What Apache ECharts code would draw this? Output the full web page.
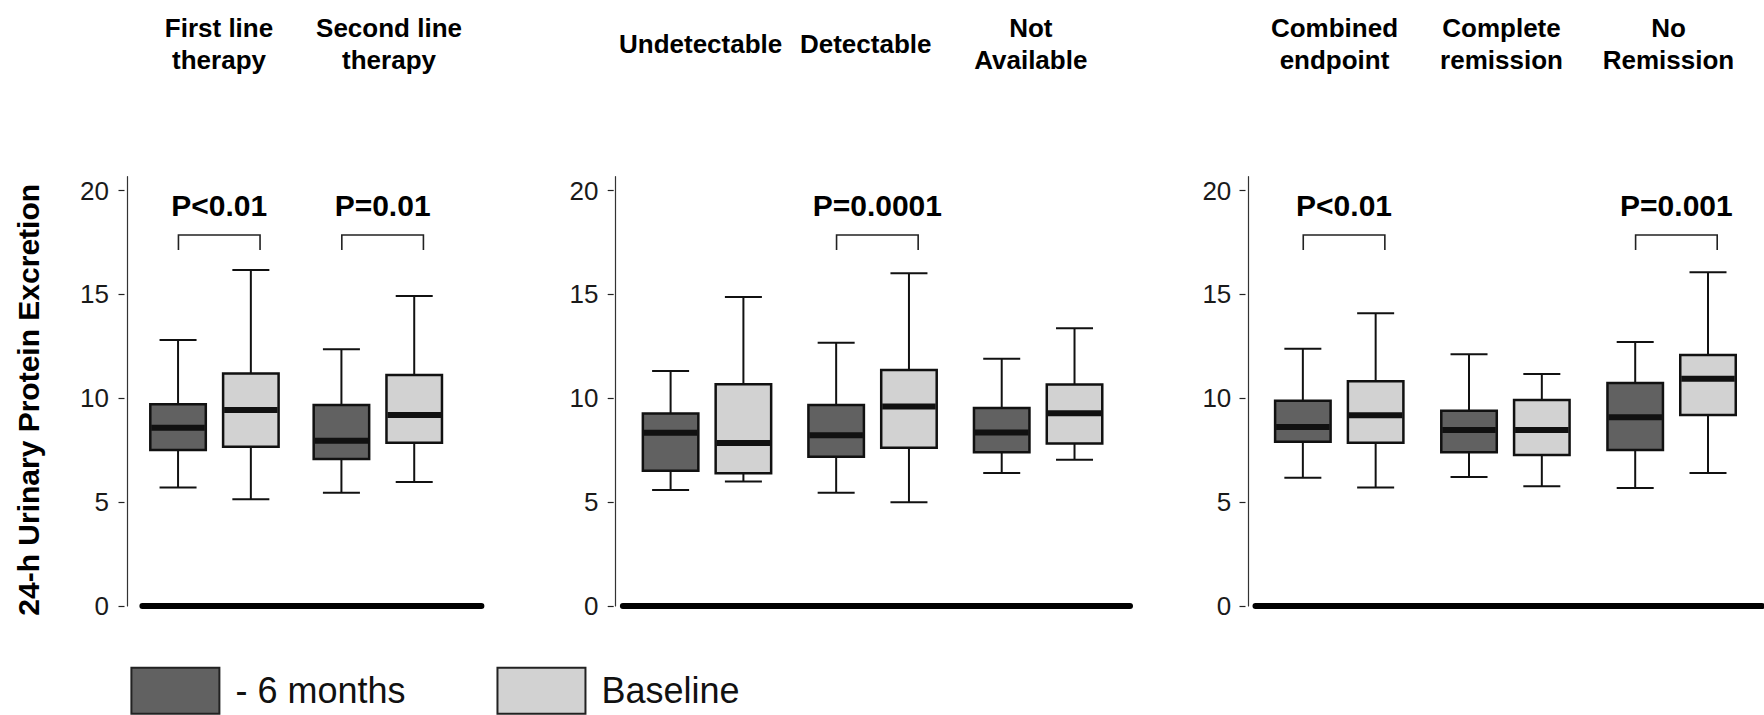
<!DOCTYPE html>
<html>
<head>
<meta charset="utf-8">
<script src="https://cdn.jsdelivr.net/npm/echarts@6/dist/echarts.min.js"></script>
<style>
  html, body { margin: 0; background: #fff; }
  #chart { width: 1764px; height: 715px; }
</style>
</head>
<body>
<div id="chart"></div>
<script>
// group names (header of each pair of boxes)
const groups1 = ['First line\ntherapy', 'Second line\ntherapy'];
const groups2 = ['Undetectable', 'Detectable', 'Not\nAvailable'];
const groups3 = ['Combined\nendpoint', 'Complete\nremission', 'No\nRemission'];

// [min, Q1, median, Q3, max] per group
const sixMonths1 = [[5.70, 7.51, 8.58, 9.71, 12.81], [5.45, 7.08, 7.96, 9.68, 12.36]];
const baseline1 = [[5.14, 7.67, 9.44, 11.20, 16.18], [5.97, 7.86, 9.19, 11.12, 14.93]];
const sixMonths2 = [[5.59, 6.51, 8.34, 9.27, 11.31], [5.45, 7.19, 8.22, 9.68, 12.67], [6.40, 7.40, 8.35, 9.53, 11.91]];
const baseline2 = [[5.99, 6.39, 7.85, 10.68, 14.88], [5.00, 7.62, 9.60, 11.36, 16.02], [7.04, 7.82, 9.28, 10.66, 13.37]];
const sixMonths3 = [[6.18, 7.91, 8.62, 9.88, 12.39], [6.21, 7.40, 8.47, 9.40, 12.12], [5.68, 7.51, 9.09, 10.74, 12.71]];
const baseline3 = [[5.70, 7.86, 9.18, 10.82, 14.09], [5.76, 7.27, 8.47, 9.92, 11.17], [6.40, 9.20, 10.94, 12.08, 16.07]];

// significance brackets: which group, and its label
const pGroups1 = [0, 1];
const pText1 = ['P<0.01', 'P=0.01'];
const pGroups2 = [1];
const pText2 = ['P=0.0001'];
const pGroups3 = [0, 2];
const pText3 = ['P<0.01', 'P=0.001'];

const yTicks = [0, 5, 10, 15, 20];
const yTitle = '24-h Urinary Protein Excretion';
const seriesNames = ['- 6 months', 'Baseline'];

const DARK = '#616161';
const LIGHT = '#d2d2d2';
const Y_MAX = 20.67;
const PAIR_HALF = 36.4;
const BOX_W = 55.5;
const CAP_W = 37;
const SANS = "'Liberation Sans', Arial, sans-serif";

const panels = [
  { groups: groups1, six: sixMonths1, base: baseline1, pGroups: pGroups1, pText: pText1,
    left: 142.4, width: 339, tickOff: 17.9, lineOff: 15.1, labelMargin: 15.5,
    xMin: -0.441, xMax: 1.634, hMin: -0.4506, hMax: 1.5435 },
  { groups: groups2, six: sixMonths2, base: baseline2, pGroups: pGroups2, pText: pText2,
    left: 622.9, width: 507.1, tickOff: 9.2, lineOff: 7.3, labelMargin: 15.3,
    xMin: -0.508, xMax: 2.555, hMin: -0.4706, hMax: 2.6008 },
  { groups: groups3, six: sixMonths3, base: baseline3, pGroups: pGroups3, pText: pText3,
    left: 1255.5, width: 506.5, tickOff: 10, lineOff: 7.7, labelMargin: 14.2,
    xMin: -0.504, xMax: 2.544, hMin: -0.4731, hMax: 2.5599 }
];

const line = (x1, y1, x2, y2, w) => ({
  type: 'line', shape: { x1, y1, x2, y2 }, style: { stroke: '#111', lineWidth: w }
});

const boxRenderer = (side) => (params, api) => {
  const g = api.value(0);
  const cx = api.coord([g, 0])[0] + side * PAIR_HALF;
  const y = (v) => api.coord([g, v])[1];
  const lo = y(api.value(1)), q1 = y(api.value(2)), med = y(api.value(3));
  const q3 = y(api.value(4)), hi = y(api.value(5));
  const hw = BOX_W / 2, cw = CAP_W / 2;
  return {
    type: 'group',
    children: [
      line(cx, hi, cx, q3, 2),
      line(cx, q1, cx, lo, 2),
      line(cx - cw, hi, cx + cw, hi, 2),
      line(cx - cw, lo, cx + cw, lo, 2),
      { type: 'rect', shape: { x: cx - hw, y: q3, width: BOX_W, height: q1 - q3 },
        style: { fill: api.visual('color'), stroke: '#111', lineWidth: 2.5 } },
      line(cx - hw + 1, med, cx + hw - 1, med, 6)
    ]
  };
};

const bracketRenderer = (texts) => (params, api) => {
  const g = api.value(0);
  const c = api.coord([g, 0])[0] + 4.8;
  const x1 = c - 40.8, x2 = c + 40.8;
  const top = api.coord([g, 17.86])[1];
  const leg = api.coord([g, 17.14])[1];
  const ty = api.coord([g, 19.26])[1];
  return {
    type: 'group',
    children: [
      { type: 'polyline', shape: { points: [[x1, leg], [x1, top], [x2, top], [x2, leg]] },
        style: { stroke: '#222', lineWidth: 1.6, fill: null } },
      { type: 'text', style: { text: texts[params.dataIndex], x: c, y: ty, align: 'center',
        verticalAlign: 'middle', fontSize: 30, fontWeight: 'bold', fontFamily: SANS, fill: '#000' } }
    ]
  };
};

const grid = [], xAxis = [], yAxis = [], series = [];

panels.forEach((p, i) => {
  grid.push({ left: p.left, width: p.width, top: 606 - Y_MAX * 20.77, height: Y_MAX * 20.77 });

  // bottom axis: positions the boxes, draws the thick baseline
  xAxis.push({
    type: 'value', gridIndex: i, min: p.xMin, max: p.xMax, position: 'bottom',
    axisLine: { show: true, onZero: false, lineStyle: { color: '#000', width: 6 } },
    axisTick: { show: false }, axisLabel: { show: false }, splitLine: { show: false }
  });
  // top axis: group headers
  xAxis.push({
    type: 'value', gridIndex: i, min: p.hMin, max: p.hMax, position: 'top',
    axisLine: { show: false, onZero: false }, axisTick: { show: false }, splitLine: { show: false },
    axisLabel: {
      customValues: p.groups.map((_, k) => k),
      formatter: (v) => p.groups[Math.round(v)],
      showMinLabel: true, showMaxLabel: true, hideOverlap: false,
      fontFamily: SANS, fontWeight: 'bold', fontSize: 26, lineHeight: 32,
      color: '#000', margin: 133, verticalAlign: 'middle'
    }
  });

  // ticks + labels, drawn slightly away from the axis line
  yAxis.push({
    type: 'value', gridIndex: i, position: 'left', min: 0, max: Y_MAX, offset: p.tickOff,
    axisLine: { show: false, onZero: false }, splitLine: { show: false },
    axisTick: { show: true, length: 6, customValues: yTicks, lineStyle: { color: '#222', width: 1.2 } },
    axisLabel: { customValues: yTicks, margin: p.labelMargin, fontFamily: SANS,
      fontSize: 26, color: '#1a1a1a' },
    name: i === 0 ? yTitle : '', nameLocation: 'middle', nameRotate: 90, nameGap: 81,
    nameTextStyle: { fontFamily: SANS, fontWeight: 'bold', fontSize: 30, color: '#000',
      padding: [0, 17, 0, 0] }
  });
  // the thin vertical axis line
  yAxis.push({
    type: 'value', gridIndex: i, position: 'left', min: 0, max: Y_MAX, offset: p.lineOff,
    axisLine: { show: true, onZero: false, lineStyle: { color: '#333', width: 1.2 } },
    axisTick: { show: false }, axisLabel: { show: false }, splitLine: { show: false }
  });

  series.push({
    type: 'custom', name: seriesNames[0], xAxisIndex: i * 2, yAxisIndex: i * 2,
    itemStyle: { color: DARK, borderColor: '#111', borderWidth: 2 },
    renderItem: boxRenderer(-1), encode: { x: 0, y: [1, 2, 3, 4, 5] },
    data: p.six.map((d, k) => [k, ...d])
  });
  series.push({
    type: 'custom', name: seriesNames[1], xAxisIndex: i * 2, yAxisIndex: i * 2,
    itemStyle: { color: LIGHT, borderColor: '#111', borderWidth: 2 },
    renderItem: boxRenderer(1), encode: { x: 0, y: [1, 2, 3, 4, 5] },
    data: p.base.map((d, k) => [k, ...d])
  });
  series.push({
    type: 'custom', xAxisIndex: i * 2, yAxisIndex: i * 2, silent: true,
    renderItem: bracketRenderer(p.pText), encode: { x: 0 },
    data: p.pGroups.map((g) => [g])
  });
});

const chart = echarts.init(document.getElementById('chart'), null, { renderer: 'svg' });
chart.setOption({
  animation: false,
  backgroundColor: '#fff',
  grid, xAxis, yAxis, series,
  legend: {
    left: 130.4, top: 666.7, padding: 0, icon: 'rect',
    itemWidth: 88, itemHeight: 46, itemGap: 91, selectedMode: false,
    textStyle: { fontFamily: SANS, fontSize: 36, color: '#111', padding: [0, 0, 0, 11] },
    data: [
      { name: seriesNames[0], itemStyle: { color: DARK, borderColor: '#222', borderWidth: 2 } },
      { name: seriesNames[1], itemStyle: { color: LIGHT, borderColor: '#222', borderWidth: 2 } }
    ]
  }
});
window.addEventListener('resize', () => chart.resize());
</script>
</body>
</html>
